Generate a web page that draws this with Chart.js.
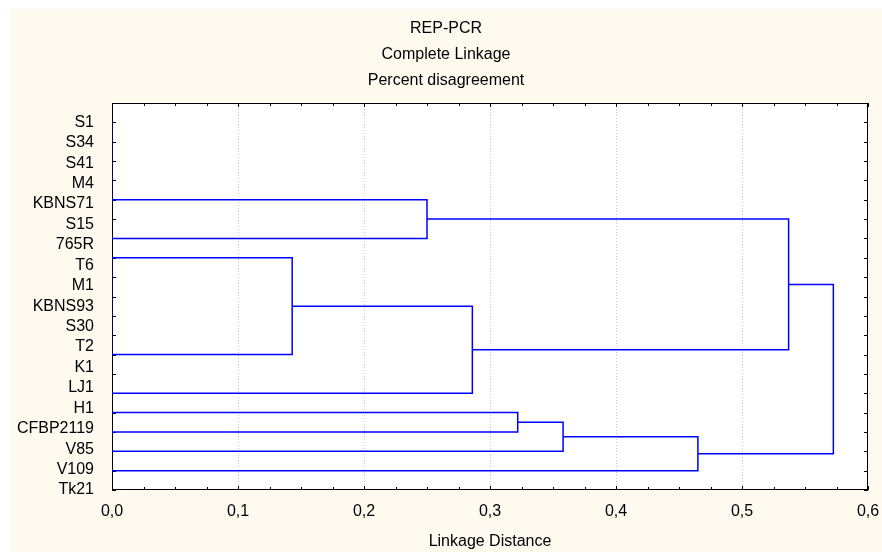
<!DOCTYPE html>
<html>
<head>
<meta charset="UTF-8">
<title>REP-PCR</title>
<style>
    body { margin: 0; background: #fff; }
    #chart { display: block; }
</style>
</head>
<body>
<canvas id="chart" width="882" height="552"></canvas>
<script src="https://cdn.jsdelivr.net/npm/chart.js"></script>
<script>
// leaf labels, top to bottom
const leafLabels = ['S1', 'S34', 'S41', 'M4', 'KBNS71', 'S15', '765R', 'T6', 'M1', 'KBNS93',
                    'S30', 'T2', 'K1', 'LJ1', 'H1', 'CFBP2119', 'V85', 'V109', 'Tk21'];
const leafSlots = 20; // tick positions on the vertical axis (0..19)

// each link joins an upper and a lower branch at a linkage distance
const linkTopY    = [0, 7, 4, 7,     9.5,   5,     15,    15.5,  16.25, 8.375];
const linkBottomY = [4, 12, 6, 12,   14,    11.75, 16,    17,    18,    17.125];
const linkTopX    = [0, 0, 0, 0,     0.143, 0.25,  0,     0.322, 0.358, 0.537];
const linkBottomX = [0, 0, 0, 0,     0,     0.286, 0,     0,     0,     0.465];
const linkDist    = [0, 0, 0.25, 0.143, 0.286, 0.537, 0.322, 0.358, 0.465, 0.5725];

const xTicks = [0, 0.1, 0.2, 0.3, 0.4, 0.5, 0.6];
const titleLines = ['REP-PCR', 'Complete Linkage', 'Percent disagreement'];

const FONT = 'Liberation Sans, Arial, sans-serif';
const PAGE_LEFT = 10, PAGE_TOP = 9; // white margin around the cream page

const datasets = linkDist.map(function(h, i) {
    return {
        data: [
            { x: linkTopX[i], y: linkTopY[i] },
            { x: h, y: linkTopY[i] },
            { x: h, y: linkBottomY[i] },
            { x: linkBottomX[i], y: linkBottomY[i] }
        ],
        showLine: true,
        borderColor: h === 0 ? '#000080' : '#0000ff',
        borderWidth: 1.5,
        pointRadius: 0,
        tension: 0,
        fill: false
    };
});

// background: white margin, cream page, white plot; title centred on the page
const backdrop = {
    id: 'backdrop',
    afterLayout(chart) {
        if (chart.titleBlock) {
            chart.titleBlock.left = PAGE_LEFT;
            chart.titleBlock.right = chart.width;
        }
    },
    beforeDraw(chart) {
        const c = chart.ctx, a = chart.chartArea;
        c.save();
        c.fillStyle = '#ffffff';
        c.fillRect(0, 0, chart.width, chart.height);
        c.fillStyle = '#fefaef';
        c.fillRect(PAGE_LEFT, PAGE_TOP, chart.width - PAGE_LEFT, chart.height - PAGE_TOP);
        c.fillStyle = '#ffffff';
        c.fillRect(a.left, a.top, a.right - a.left, a.bottom - a.top);
        c.restore();
    }
};

// box frame with inward ticks on all four sides
const frame = {
    id: 'frame',
    beforeDatasetsDraw(chart) {
        const c = chart.ctx, a = chart.chartArea;
        const xs = chart.scales.x, ys = chart.scales.y;
        c.save();
        c.strokeStyle = '#000';
        c.lineWidth = 1;
        c.strokeRect(Math.round(a.left) + 0.5, Math.round(a.top) + 0.5,
                     Math.round(a.right - a.left) - 1, Math.round(a.bottom - a.top) - 1);
        c.beginPath();
        for (let k = 0; k < leafSlots; k++) {
            const py = Math.round(ys.getPixelForValue(k)) + 0.5;
            c.moveTo(a.left, py); c.lineTo(a.left + 4, py);
            c.moveTo(a.right - 4, py); c.lineTo(a.right, py);
        }
        for (let k = 0; k <= 24; k++) {
            const px = Math.round(xs.getPixelForValue(k * 0.025)) + 0.5;
            const len = k % 4 === 0 ? 4 : 3;
            c.moveTo(px, a.bottom); c.lineTo(px, a.bottom - len);
            c.moveTo(px, a.top); c.lineTo(px, a.top + len);
        }
        c.stroke();
        c.restore();
    }
};

new Chart(document.getElementById('chart'), {
    type: 'scatter',
    data: { datasets: datasets },
    options: {
        responsive: false,
        animation: false,
        events: [],
        devicePixelRatio: 1,
        layout: { padding: { top: 0, right: 14, bottom: 0, left: 0 } },
        plugins: {
            legend: { display: false },
            tooltip: { enabled: false },
            title: {
                display: true,
                text: titleLines,
                color: '#000',
                font: { family: FONT, size: 16, weight: 'normal', lineHeight: 1.625 },
                padding: { top: 16, bottom: 9 }
            }
        },
        scales: {
            x: {
                type: 'linear',
                min: 0,
                max: 0.6,
                afterBuildTicks(scale) { scale.ticks = xTicks.map(v => ({ value: v })); },
                afterFit(scale) {
                    scale.height = 62;
                    scale.paddingLeft = 0;
                    scale.paddingRight = 0;
                },
                ticks: {
                    color: '#000',
                    font: { family: FONT, size: 16 },
                    padding: 12,
                    callback: v => v.toFixed(1).replace('.', ',')
                },
                grid: {
                    drawTicks: false,
                    lineWidth: 1,
                    color: ctx => (ctx.tick && (ctx.tick.value === 0 || ctx.tick.value === 0.6)) ? 'rgba(0,0,0,0)' : '#c8c8c8'
                },
                border: { display: false, dash: [1, 2] },
                title: {
                    display: true,
                    text: 'Linkage Distance',
                    color: '#000',
                    font: { family: FONT, size: 16 },
                    padding: { top: 0, bottom: 1 }
                }
            },
            y: {
                type: 'linear',
                reverse: true,
                min: -1,
                max: leafSlots - 1,
                afterBuildTicks(scale) {
                    scale.ticks = leafLabels.map((l, j) => ({ value: j * (leafSlots - 1) / (leafLabels.length - 1) }));
                },
                afterFit(scale) {
                    scale.width = 112;
                    scale.paddingTop = 0;
                    scale.paddingBottom = 0;
                },
                ticks: {
                    autoSkip: false,
                    color: '#000',
                    font: { family: FONT, size: 16 },
                    padding: 10,
                    callback: (v, i) => leafLabels[i]
                },
                grid: { display: false },
                border: { display: false }
            }
        }
    },
    plugins: [backdrop, frame]
});
</script>
</body>
</html>
